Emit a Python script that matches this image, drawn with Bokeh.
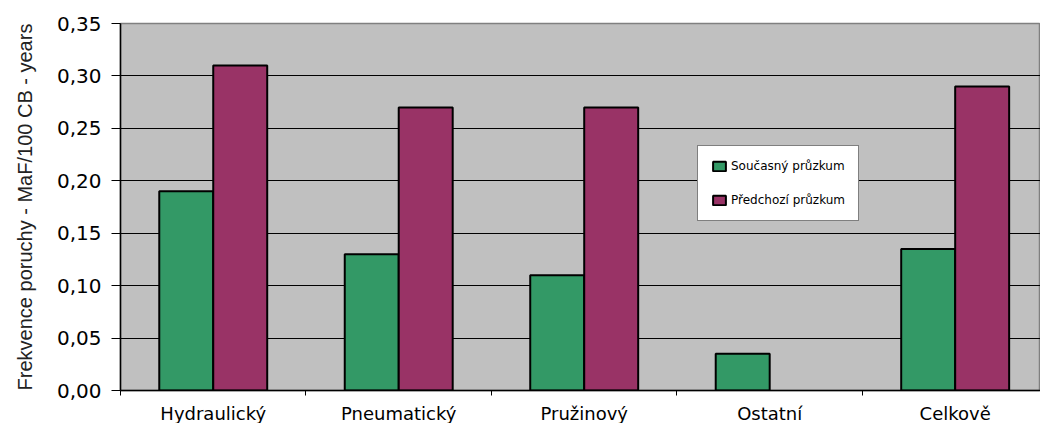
from bokeh.plotting import figure
from bokeh.models import ColumnDataSource, FixedTicker, CustomJSTickFormatter, Legend, LegendItem, Range1d
from bokeh.transform import dodge
from bokeh.embed import file_html
from bokeh.resources import INLINE

# Failure frequency by drive type
categories = ["Hydraulický", "Pneumatický", "Pružinový", "Ostatní", "Celkově"]
soucasny = [0.19, 0.13, 0.11, 0.035, 0.135]
predchozi = [0.31, 0.27, 0.27, float("nan"), 0.29]
y_ticks = [0.0, 0.05, 0.10, 0.15, 0.20, 0.25, 0.30, 0.35]

positions = list(range(len(categories)))
source = ColumnDataSource(dict(x=positions, cat=categories, cur=soucasny, prev=predchozi))

p = figure(
    frame_width=920, frame_height=367,
    min_border_left=120, min_border_top=23, min_border_bottom=31, min_border_right=0,
    x_range=Range1d(-0.5, 4.46), y_range=Range1d(0, 0.35),
    output_backend="svg", toolbar_location=None,
    border_fill_color="white",
)
p.background_fill_color = "#C0C0C0"
p.outline_line_color = "#808080"
p.outline_line_width = 1.5

bar_w = 0.291
r1 = p.vbar(x=dodge("x", -bar_w / 2), top="cur", width=bar_w, source=source,
            fill_color="#339966", line_color="black", line_width=2)
r2 = p.vbar(x=dodge("x", bar_w / 2), top="prev", width=bar_w, source=source,
            fill_color="#993366", line_color="black", line_width=2)

# x axis: labels centred under each group, ticks on group boundaries
p.xaxis.ticker = FixedTicker(ticks=positions, minor_ticks=[i - 0.5 for i in range(len(categories) + 1)])
p.xaxis.major_label_overrides = {i: c for i, c in zip(positions, categories)}
p.xaxis.major_tick_out = 0
p.xaxis.major_tick_in = 0
p.xaxis.minor_tick_out = 5
p.xaxis.minor_tick_in = 0
p.xaxis.minor_tick_line_color = "black"
p.xaxis.axis_line_color = "black"
p.xaxis.axis_line_width = 1.5
p.xaxis.major_label_standoff = 7
p.xaxis.major_label_text_font = "DejaVu Sans"
p.xaxis.major_label_text_font_size = "18px"
p.xaxis.major_label_text_color = "black"
p.xgrid.grid_line_color = None

# y axis
p.yaxis.ticker = FixedTicker(ticks=y_ticks)
p.yaxis.formatter = CustomJSTickFormatter(code="return tick.toFixed(2).replace('.', ',');")
p.yaxis.major_tick_out = 9
p.yaxis.major_tick_in = 0
p.yaxis.minor_tick_line_color = None
p.yaxis.axis_line_color = "black"
p.yaxis.axis_line_width = 1.5
p.yaxis.major_tick_line_color = "black"
p.yaxis.major_label_standoff = 10
p.yaxis.major_label_text_font = "DejaVu Sans"
p.yaxis.major_label_text_font_size = "20px"
p.yaxis.major_label_text_color = "black"
p.yaxis.axis_label = "Frekvence poruchy - MaF/100 CB - years"
p.yaxis.axis_label_text_font = "Liberation Sans"
p.yaxis.axis_label_text_font_size = "20px"
p.yaxis.axis_label_text_font_style = "normal"
p.yaxis.axis_label_text_color = "#222222"
p.yaxis.axis_label_standoff = 18
p.ygrid.ticker = FixedTicker(ticks=y_ticks)
p.ygrid.grid_line_color = "black"
p.ygrid.grid_line_width = 1

legend = Legend(
    items=[LegendItem(label="Současný průzkum", renderers=[r1]),
           LegendItem(label="Předchozí průzkum", renderers=[r2])],
    location=(577, 169),
    border_line_color="black", border_line_width=1,
    background_fill_color="white", background_fill_alpha=1,
    label_text_font="DejaVu Sans", label_text_font_size="12px", label_text_color="black",
    glyph_width=16, glyph_height=12, label_standoff=4,
    padding=13, spacing=20, margin=0,
)
p.add_layout(legend, "center")

open("out.html", "w").write(file_html(p, INLINE))
